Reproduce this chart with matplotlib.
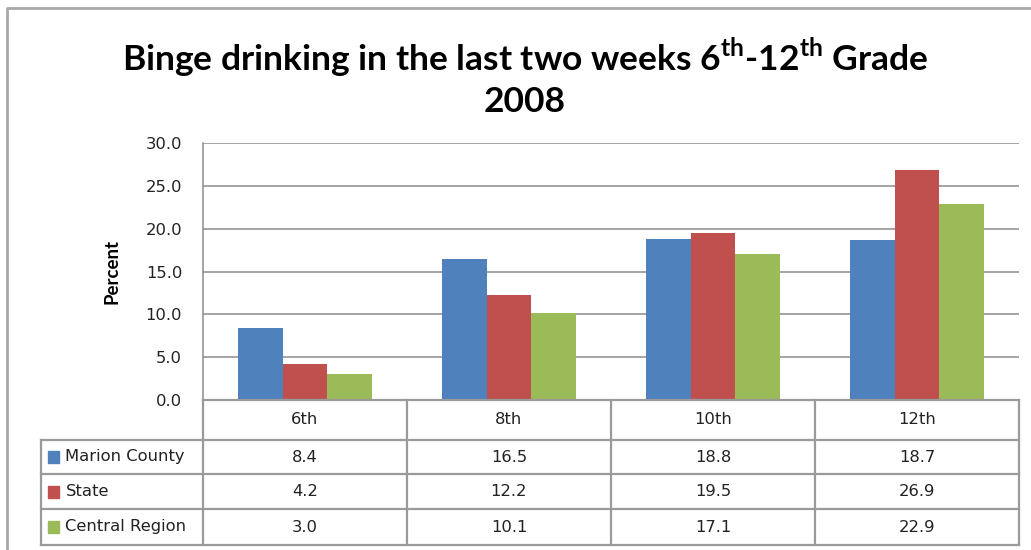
import numpy as np
import matplotlib.pyplot as plt
from matplotlib.patches import Rectangle

plt.rcParams['font.family'] = 'DejaVu Sans'
plt.rcParams['mathtext.fontset'] = 'custom'
plt.rcParams['mathtext.bf'] = 'Lato:bold'
plt.rcParams['mathtext.rm'] = 'Lato'

grades = ['6th', '8th', '10th', '12th']
series = ['Marion County', 'State', 'Central Region']
marion = [8.4, 16.5, 18.8, 18.7]
state = [4.2, 12.2, 19.5, 26.9]
central = [3.0, 10.1, 17.1, 22.9]
colors = ['#4F81BD', '#C0504D', '#9BBB59']
values = [marion, state, central]

W, H = 1031, 550
fig = plt.figure(figsize=(W / 100, H / 100), dpi=100)

def px(x0, y0, x1, y1):
    # axes rect from pixel box (top-left origin)
    return [x0 / W, 1 - y1 / H, (x1 - x0) / W, (y1 - y0) / H]

grid_c = '#8C8C8C'
line_c = '#9A9A9A'
txt_c = '#222222'
fs = 11.8

# bar chart
ax = fig.add_axes(px(203, 143, 1019, 400))
x = np.arange(len(grades))
bw = 0.218
for i, (name, vals) in enumerate(zip(series, values)):
    ax.bar(x + (i - 1) * bw, vals, bw, color=colors[i], label=name, zorder=3)
ax.set_xlim(-0.5, 3.5)
ax.set_ylim(0, 30)
yt = np.arange(0, 31, 5)
ax.set_yticks(yt)
ax.set_yticklabels([f'{v:.1f}' for v in yt], fontsize=fs, color=txt_c)
ax.set_xticks([])
ax.tick_params(axis='y', length=0, pad=15)
ax.grid(axis='y', color=grid_c, linewidth=1.1, zorder=0)
for s in ['top', 'right', 'bottom']:
    ax.spines[s].set_visible(False)
ax.spines['left'].set_color(grid_c)
ax.spines['left'].set_linewidth(1.1)
ax.set_ylabel('Percent', fontsize=13.5, fontweight='bold', family='Lato', labelpad=18)

# title
fig.text(525 / W, 1 - 57 / H,
         r'Binge drinking in the last two weeks 6$^{\mathbf{th}}$-12$^{\mathbf{th}}$ Grade',
         ha='center', va='center', fontsize=25.5, fontweight='bold', family='Lato')
fig.text(525 / W, 1 - 102 / H, '2008', ha='center', va='center',
         fontsize=25.5, fontweight='bold', family='Lato')

# data table
rows = [400, 440, 474, 509, 545]
tx = fig.add_axes(px(41, 400, 1019, 545))
left = -0.5 - 162 / 204
tx.set_xlim(left, 3.5)
tx.set_ylim(rows[-1], rows[0])
tx.axis('off')
lk = dict(color=line_c, linewidth=1.6, clip_on=False)
for c in np.arange(-0.5, 3.6, 1.0):
    tx.plot([c, c], [rows[0], rows[-1]], **lk)
tx.plot([left, left], [rows[1], rows[-1]], **lk)
tx.plot([-0.5, 3.5], [rows[0], rows[0]], **lk)
for r in rows[1:]:
    tx.plot([left, 3.5], [r, r], **lk)

for j, g in enumerate(grades):
    tx.text(j, (rows[0] + rows[1]) / 2, g, ha='center', va='center', fontsize=fs, color=txt_c)
for i, (name, vals) in enumerate(zip(series, values)):
    yc = (rows[i + 1] + rows[i + 2]) / 2
    tx.add_patch(Rectangle((left + 0.035, yc - 6), 0.055, 12, color=colors[i], clip_on=False))
    tx.text(left + 0.12, yc, name, ha='left', va='center', fontsize=fs, color=txt_c)
    for j, v in enumerate(vals):
        tx.text(j, yc, f'{v:.1f}', ha='center', va='center', fontsize=fs, color=txt_c)

# outer chart border
bx = fig.add_axes([0, 0, 1, 1])
bx.set_xlim(0, W)
bx.set_ylim(H, 0)
bx.axis('off')
bx.plot([7, 7, W + 5], [H + 5, 8, 8], color='#A8A8A8', linewidth=2, clip_on=False)

fig.savefig('out.png', dpi=100)
